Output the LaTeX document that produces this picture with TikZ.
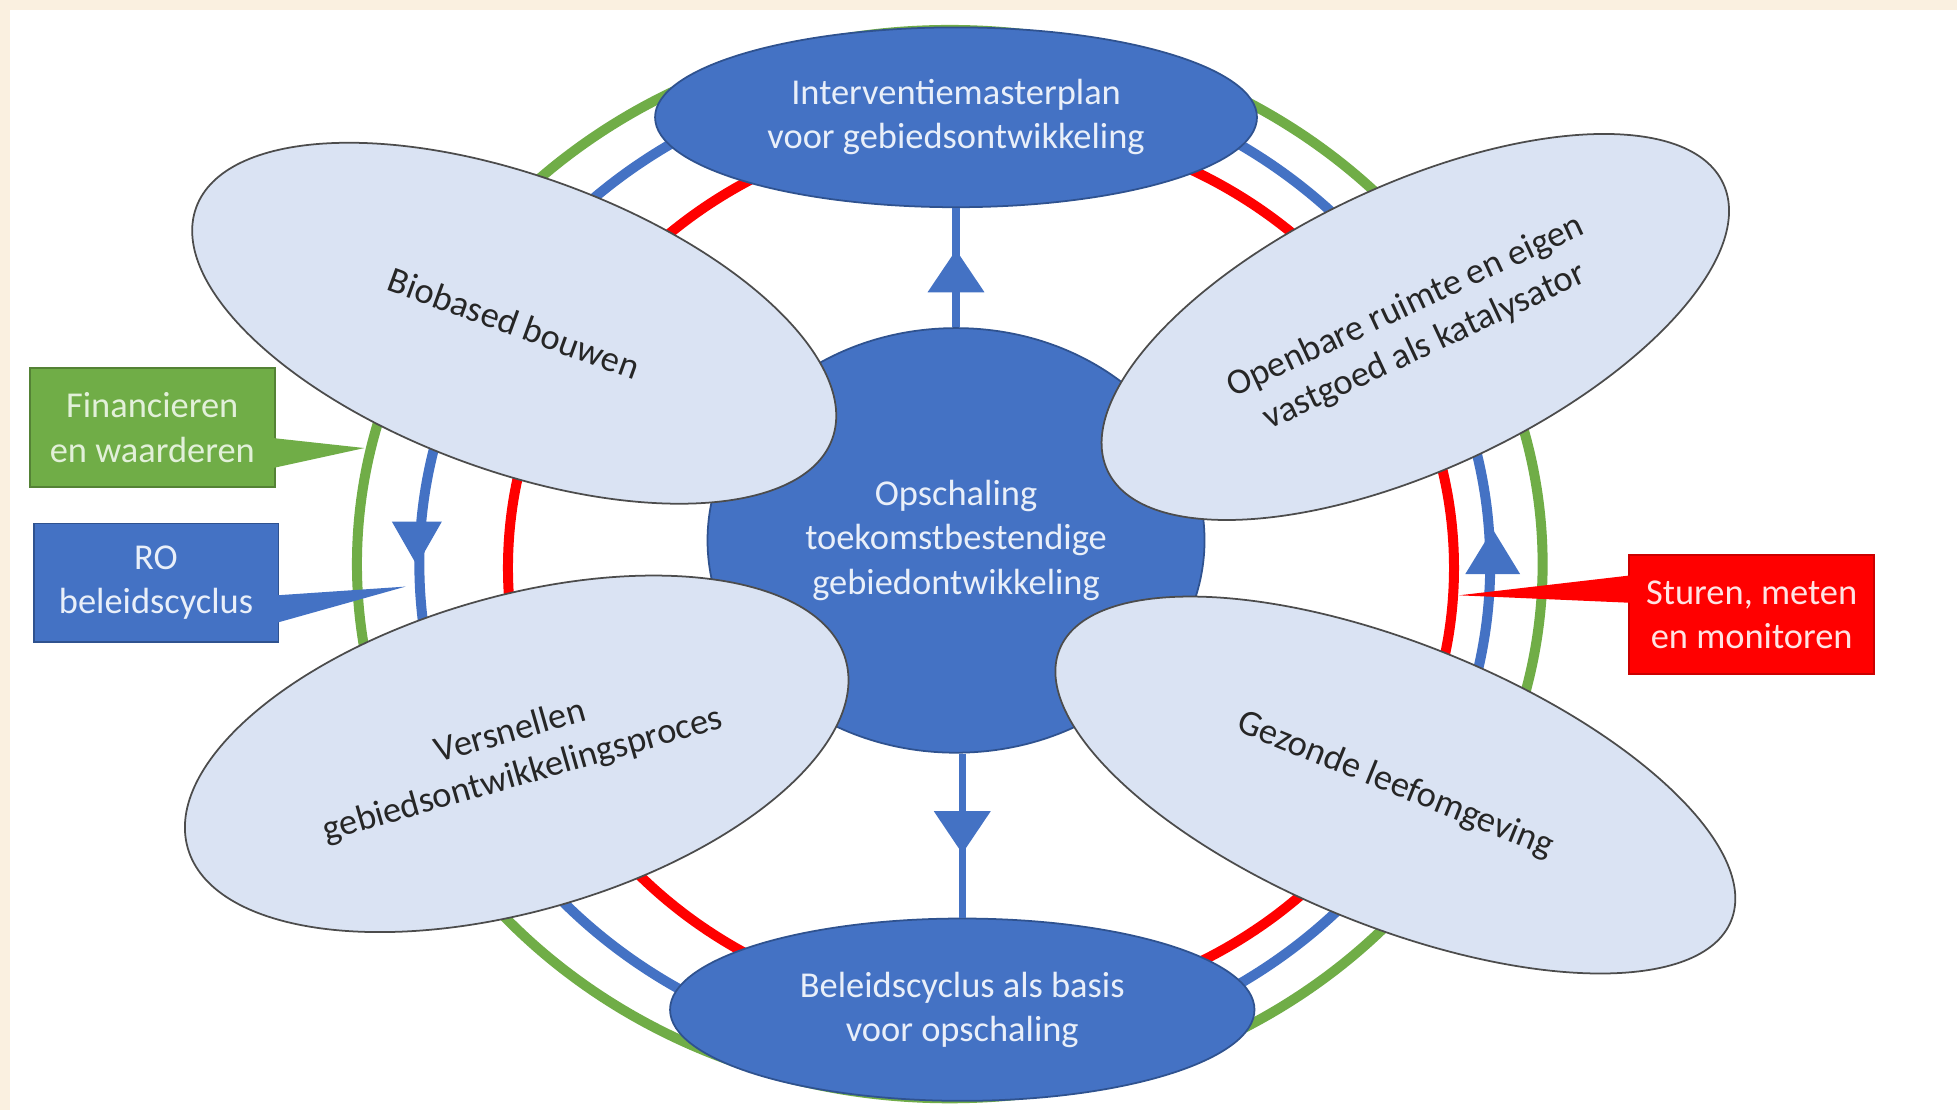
\documentclass[tikz,border=0pt]{standalone}
\usepackage{fontspec}
\setmainfont{Carlito}
\usetikzlibrary{shapes.geometric,arrows.meta,decorations.markings,calc}
\definecolor{cream}{HTML}{FAF0E0}
\definecolor{dblue}{HTML}{4472C4}
\definecolor{dblueb}{HTML}{2F528F}
\definecolor{lblue}{HTML}{DAE3F3}
\definecolor{ggreen}{HTML}{70AD47}
\definecolor{rred}{HTML}{FF0000}
\definecolor{wtext}{HTML}{E9EFF9}
\definecolor{gtext}{HTML}{E2F0D9}
\definecolor{rtext}{HTML}{FFE3E3}
\definecolor{dtext}{HTML}{262626}
\begin{document}
\begin{tikzpicture}[x=0.01cm,y=-0.01cm,
  font=\fontsize{8.3}{10.1}\selectfont,
  ring/.style={line width=0.08cm},
  darkell/.style={ellipse, fill=dblue, draw=dblueb, line width=0.4pt, text=wtext, align=center, inner sep=0pt},
  lightell/.style={ellipse, fill=lblue, draw=black!70, line width=0.4pt, text=dtext, align=center, inner sep=0pt},
  flow/.style={draw=dblue, line width=0.06cm, postaction={decorate},
    decoration={markings, mark=at position #1 with {\arrow{Triangle[width=0.44cm,length=0.34cm]}}}},
  callbox/.style={rectangle, minimum width=1.96cm, minimum height=0.95cm, inner sep=0pt, align=center, line width=0.4pt}
]
% background
\fill[cream] (0,0) rectangle (1568,889);
\fill[white] (8,8) rectangle (1568,889);
\useasboundingbox (0,0) rectangle (1568,889);

% rings
\draw[ggreen, ring] (761,452) ellipse [x radius=475, y radius=428];
\draw[dblue, ring] (765,452) ellipse [x radius=429, y radius=397];
\draw[rred, ring] (786,455) ellipse [x radius=379, y radius=356];
\fill[dblue] (314,418) -- (354,418) -- (334,453) -- cycle;
\fill[dblue] (1174,460) -- (1218,460) -- (1196,424) -- cycle;

% central nodes
\node[darkell, minimum width=3.98cm, minimum height=3.40cm] (hub) at (766,433)
  {Opschaling\\toekomstbestendige\\gebiedontwikkeling};
\node[darkell, minimum width=4.82cm, minimum height=1.44cm] (plan) at (766,94)
  {Interventiemasterplan\\voor gebiedsontwikkeling};
\node[darkell, minimum width=4.68cm, minimum height=1.46cm] (basis) at (771,809)
  {Beleidscyclus als basis\\voor opschaling};

\draw[flow=0.65] (hub.north) -- (plan.south);
\draw[flow=0.61] (basis.north |- hub.south) -- (basis.north);

% themes
\node[lightell, minimum width=5.42cm, minimum height=2.36cm, rotate=-20] (bio) at (412,259)
  {Biobased bouwen};
\node[lightell, minimum width=5.44cm, minimum height=2.28cm, rotate=25] (open) at (1134,262)
  {Openbare ruimte en eigen\\vastgoed als katalysator};
\node[lightell, minimum width=5.48cm, minimum height=2.52cm, rotate=16] (vers) at (414,604)
  {Versnellen\\gebiedsontwikkelingsproces};
\node[lightell, minimum width=5.80cm, minimum height=2.26cm, rotate=-22] (gez) at (1118,629)
  {Gezonde leefomgeving};

% callouts
\node[callbox, fill=ggreen, draw=ggreen!75!black, text=gtext] (fin) at (122,342.5)
  {Financieren\\en waarderen};
\coordinate (fintip) at (292,359);
\fill[ggreen] ($(fin.east)+(-2,8.5)$) -- (fintip) -- ($(fin.east)+(-2,32.5)$) -- cycle;

\node[callbox, fill=dblue, draw=dblueb, text=wtext] (ro) at (125,467)
  {RO\\beleidscyclus};
\coordinate (rotip) at (325,470);
\fill[dblue] ($(ro.east)+(-2,10)$) -- (rotip) -- ($(ro.east)+(-2,32)$) -- cycle;

\node[callbox, fill=rred, draw=rred!80!black, text=rtext] (stur) at (1403.5,492.5)
  {Sturen, meten\\en monitoren};
\coordinate (sturtip) at (1169,477);
\fill[rred] ($(stur.west)+(2,-31.5)$) -- (sturtip) -- ($(stur.west)+(2,-9.5)$) -- cycle;
\end{tikzpicture}
\end{document}
